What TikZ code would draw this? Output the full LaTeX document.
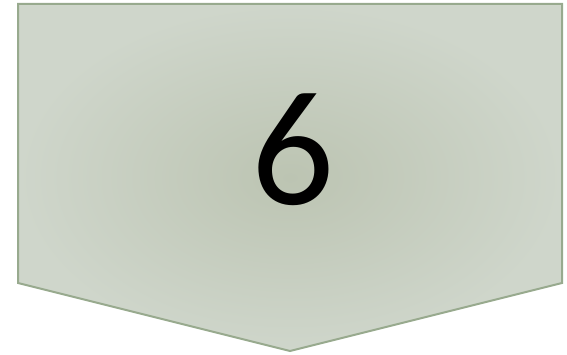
\documentclass[tikz,border=0pt]{standalone}
\usepackage{fontspec}
\setmainfont{Carlito}
\definecolor{edgec}{HTML}{98AA8E}
\definecolor{innerc}{HTML}{BCC4B2}
\definecolor{outerc}{HTML}{CFD6CB}
\tikzset{chevron/.style={draw=edgec,line width=2pt,line join=miter,inner color=innerc,outer color=outerc},
  bigtext/.style={font=\fontsize{164}{164}\selectfont,text=black,inner sep=0pt}}
\begin{document}
\begin{tikzpicture}[x=1pt,y=-1pt]
\useasboundingbox (0,0) rectangle (567,355);
\coordinate (tl) at (18,4);
\coordinate (tr) at (562,4);
\coordinate (br) at (562,283);
\coordinate (tip) at (290,351);
\coordinate (bl) at (18,283);
\path[chevron] (tl) -- (tr) -- (br) -- (tip) -- (bl) -- cycle;
\node[bigtext] (six) at (293,150) {6};
\end{tikzpicture}
\end{document}
